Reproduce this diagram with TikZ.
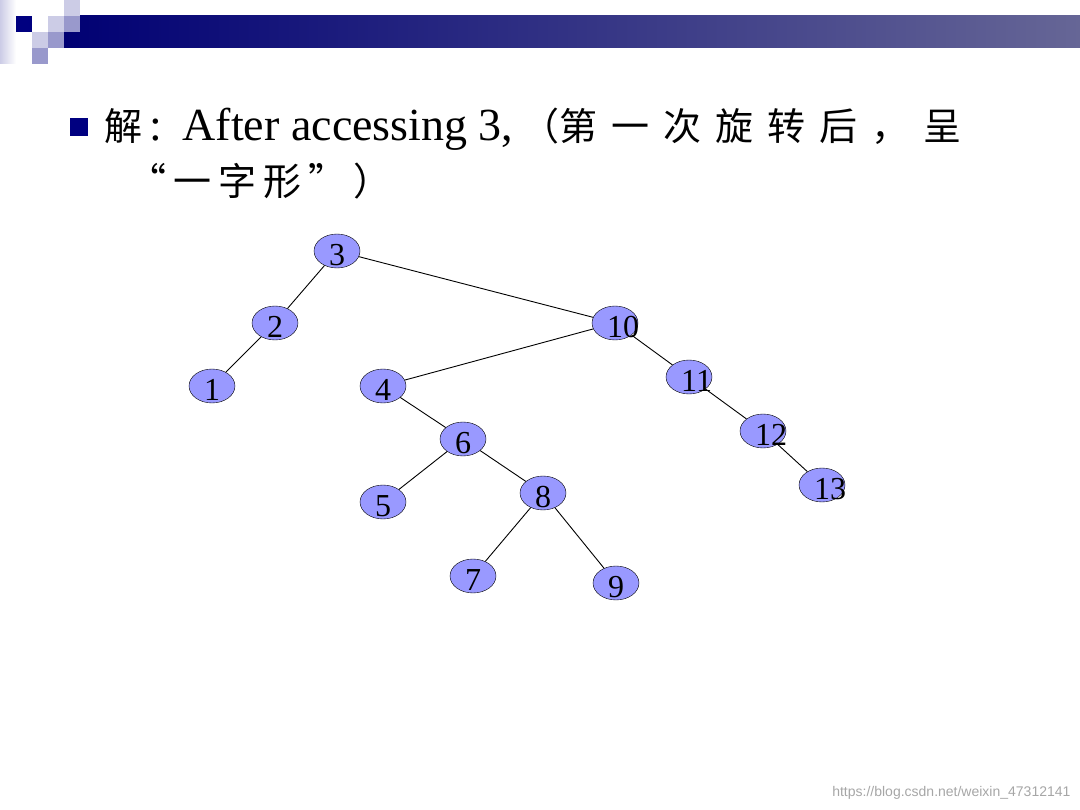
\documentclass[tikz,border=0pt]{standalone}
\usepackage{fontspec}
\setmainfont{Liberation Serif}
\newfontfamily\cjk{Noto Sans CJK SC}
\newfontfamily\wmfont{Liberation Sans}
\usetikzlibrary{shapes.geometric}
\definecolor{navy}{RGB}{0,0,128}
\definecolor{barend}{RGB}{102,102,150}
\definecolor{sqlight}{RGB}{204,204,230}
\definecolor{sqmid}{RGB}{153,153,204}
\definecolor{nodefill}{RGB}{153,153,255}
\newcommand{\cjktext}[1]{{\cjk\fontsize{38}{46}\selectfont #1}}
\newcommand{\gap}{\hspace{14pt}}
\newcommand{\smallgap}{\hspace{7pt}}
\begin{document}
\begin{tikzpicture}
	[x=1pt, y=-1pt,
		vertex/.style	={ellipse
								, draw=black
								, fill=nodefill
								, minimum width=46pt
								, minimum height=34pt
								, inner sep=0pt
								},
		numlabel/.style	={anchor=west
								, inner sep=0pt
								, font=\fontsize{32}{32}\selectfont
								},
		edge/.style		={draw
								, black
								, line width=0.9pt
								}
	]
\useasboundingbox (0,0) rectangle (1080,810);
% header decoration
\shade[left color=sqlight, right color=white] (0,0) rectangle (16,64);
\shade[left color=navy!90!black, right color=barend] (64,16) rectangle (1080,48);
\fill[navy] (16,16) rectangle (32,32);
\fill[sqlight] (48,16) rectangle (64,32);
\fill[sqlight] (64,0) rectangle (80,16);
\fill[sqmid] (64,16) rectangle (80,32);
\fill[sqlight] (32,32) rectangle (48,48);
\fill[sqmid] (48,32) rectangle (64,48);
\fill[sqmid] (32,48) rectangle (48,64);
% title
\fill[navy] (70,118) rectangle (88,136);
\node[anchor=base west, inner sep=0pt, font=\fontsize{46}{54}\selectfont] (title1) at (104,141)
	{\cjktext{解}\,:\hspace{20pt}After accessing 3,\hspace{8pt}\cjktext{（第\gap 一\gap 次\gap 旋\gap 转\gap 后\gap ，\gap 呈}};
\node[anchor=base west, inner sep=0pt] (title2) at (128,196)
	{\cjktext{“\smallgap 一\smallgap 字\smallgap 形\smallgap ”\smallgap ）}};
% tree
\foreach \name/\x/\y in {3/337/251, 2/275/323, 1/212/386, 10/615/323, 4/383/386,
		11/689/377, 6/463/439, 12/763/431, 5/383/502, 8/543/493, 13/822/485,
		7/473/576, 9/616/583}
{
	\node[vertex] (n\name) at (\x,\y) {};
	\node[numlabel] (t\name) at (\x-8,\y+4) {\name};
}
\foreach \a/\b in {3/2, 2/1, 3/10, 10/4, 10/11, 11/12, 12/13, 4/6, 6/5, 6/8, 8/7, 8/9}
	\path[edge] (n\a) -- (n\b);
% watermark
\node[anchor=east, text=black!35, font=\wmfont\fontsize{14}{14}\selectfont] (mark) at (1074,793)
	{https://blog.csdn.net/weixin\_47312141};
\end{tikzpicture}
\end{document}
